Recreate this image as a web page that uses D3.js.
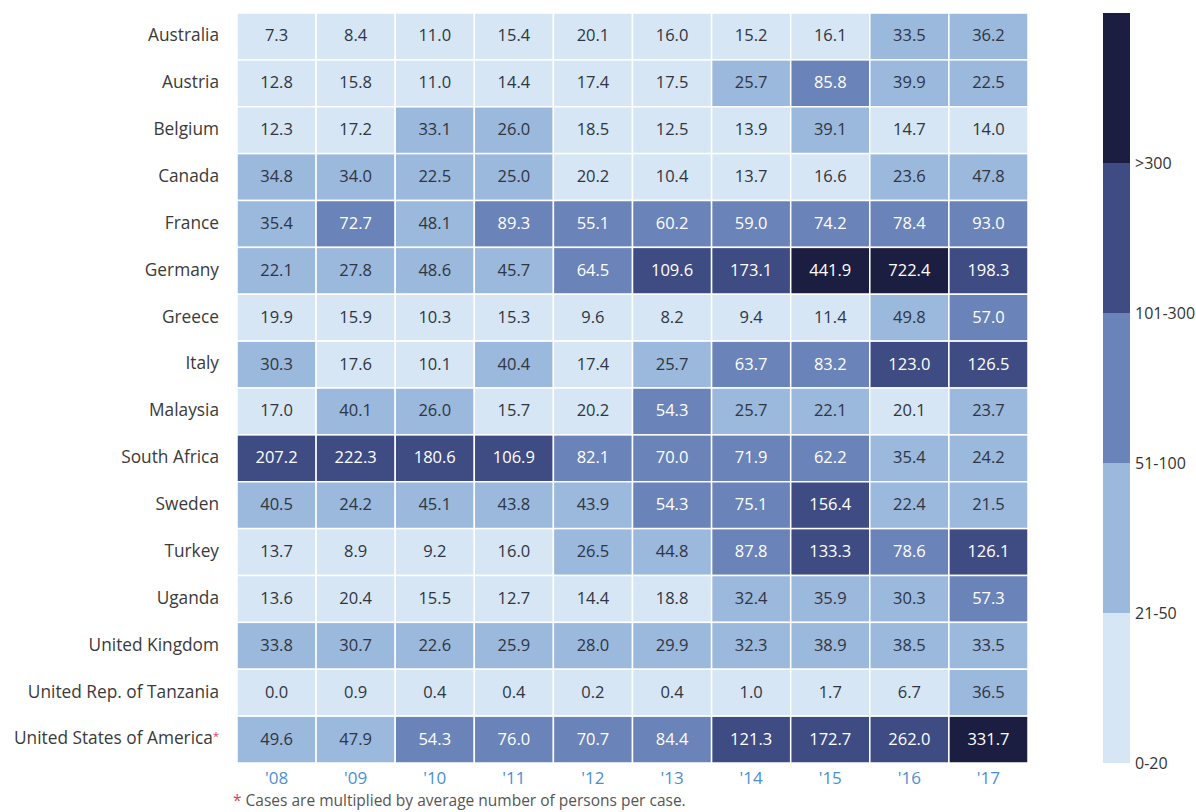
<!DOCTYPE html>
<html>
<head>
<meta charset="utf-8">
<script src="https://cdn.jsdelivr.net/npm/d3@7"></script>
<style>
  html, body { margin: 0; padding: 0; background: #ffffff; }
  svg { display: block; font-family: "Open Sans", sans-serif; }
</style>
</head>
<body>
<svg id="chart" width="1196" height="812"></svg>
<script>
// Countries (rows) and years (columns)
const countries = [
  "Australia", "Austria", "Belgium", "Canada", "France", "Germany", "Greece",
  "Italy", "Malaysia", "South Africa", "Sweden", "Turkey", "Uganda",
  "United Kingdom", "United Rep. of Tanzania", "United States of America"
];
const years = ["'08", "'09", "'10", "'11", "'12", "'13", "'14", "'15", "'16", "'17"];

// Values per country, one entry per year
const australia = [7.3, 8.4, 11.0, 15.4, 20.1, 16.0, 15.2, 16.1, 33.5, 36.2];
const austria   = [12.8, 15.8, 11.0, 14.4, 17.4, 17.5, 25.7, 85.8, 39.9, 22.5];
const belgium   = [12.3, 17.2, 33.1, 26.0, 18.5, 12.5, 13.9, 39.1, 14.7, 14.0];
const canada    = [34.8, 34.0, 22.5, 25.0, 20.2, 10.4, 13.7, 16.6, 23.6, 47.8];
const france    = [35.4, 72.7, 48.1, 89.3, 55.1, 60.2, 59.0, 74.2, 78.4, 93.0];
const germany   = [22.1, 27.8, 48.6, 45.7, 64.5, 109.6, 173.1, 441.9, 722.4, 198.3];
const greece    = [19.9, 15.9, 10.3, 15.3, 9.6, 8.2, 9.4, 11.4, 49.8, 57.0];
const italy     = [30.3, 17.6, 10.1, 40.4, 17.4, 25.7, 63.7, 83.2, 123.0, 126.5];
const malaysia  = [17.0, 40.1, 26.0, 15.7, 20.2, 54.3, 25.7, 22.1, 20.1, 23.7];
const southAfrica = [207.2, 222.3, 180.6, 106.9, 82.1, 70.0, 71.9, 62.2, 35.4, 24.2];
const sweden    = [40.5, 24.2, 45.1, 43.8, 43.9, 54.3, 75.1, 156.4, 22.4, 21.5];
const turkey    = [13.7, 8.9, 9.2, 16.0, 26.5, 44.8, 87.8, 133.3, 78.6, 126.1];
const uganda    = [13.6, 20.4, 15.5, 12.7, 14.4, 18.8, 32.4, 35.9, 30.3, 57.3];
const unitedKingdom = [33.8, 30.7, 22.6, 25.9, 28.0, 29.9, 32.3, 38.9, 38.5, 33.5];
const tanzania  = [0.0, 0.9, 0.4, 0.4, 0.2, 0.4, 1.0, 1.7, 6.7, 36.5];
const usa       = [49.6, 47.9, 54.3, 76.0, 70.7, 84.4, 121.3, 172.7, 262.0, 331.7];

const rows = [australia, austria, belgium, canada, france, germany, greece, italy,
  malaysia, southAfrica, sweden, turkey, uganda, unitedKingdom, tanzania, usa];

// Colour classes
const classLabels = ["0-20", "21-50", "51-100", "101-300", ">300"];
const classBreaks = [20.5, 50.5, 100.5, 300.5];
const classColors = ["#d6e6f4", "#9bb8dd", "#6a83b8", "#3e4c83", "#1b1e40"];

const footnote = "Cases are multiplied by average number of persons per case.";
const starredCountry = "United States of America";

const cells = [];
rows.forEach((vals, r) => vals.forEach((v, c) => cells.push({ country: countries[r], year: years[c], value: v })));

const svg = d3.select("#chart");
const margin = { left: 237, top: 13, right: 1028, bottom: 763 };

const x = d3.scaleBand().domain(years).range([margin.left, margin.right]).padding(0);
const y = d3.scaleBand().domain(countries).range([margin.top, margin.bottom]).padding(0);
const color = d3.scaleThreshold().domain(classBreaks).range(classColors);

// Cells
svg.append("g").selectAll("rect").data(cells).join("rect")
  .attr("x", d => x(d.year))
  .attr("y", d => y(d.country))
  .attr("width", x.bandwidth())
  .attr("height", y.bandwidth())
  .attr("fill", d => color(d.value))
  .attr("stroke", "#ffffff")
  .attr("stroke-width", 1.5);

// Cell values
svg.append("g").selectAll("text").data(cells).join("text")
  .attr("x", d => x(d.year) + x.bandwidth() / 2)
  .attr("y", d => y(d.country) + y.bandwidth() / 2)
  .attr("dy", "0.3em")
  .attr("text-anchor", "middle")
  .attr("font-size", 16.5)
  .attr("fill", d => d.value > classBreaks[1] ? "#ffffff" : "#2f3542")
  .text(d => d.value.toFixed(1));

// Country axis
const yAxis = svg.append("g")
  .attr("transform", `translate(${margin.left},0)`)
  .call(d3.axisLeft(y).tickSize(0).tickPadding(18));
yAxis.select(".domain").remove();
yAxis.selectAll("text")
  .attr("font-size", 17.3)
  .attr("dy", "0.28em")
  .attr("font-family", "'Open Sans', sans-serif")
  .attr("fill", "#3a3a3a")
  .each(function (d) {
    if (d === starredCountry) {
      const t = d3.select(this);
      t.text(d);
      t.append("tspan").attr("fill", "#e0405c").attr("font-size", 11).attr("dy", "-0.4em").text("*");
    }
  });

// Year axis
const xAxis = svg.append("g")
  .attr("transform", `translate(0,${margin.bottom})`)
  .call(d3.axisBottom(x).tickSize(0).tickPadding(9));
xAxis.select(".domain").remove();
xAxis.selectAll("text")
  .attr("font-size", 17)
  .attr("font-family", "'Open Sans', sans-serif")
  .attr("fill", "#4a8fd4");

// Footnote
const fn = svg.append("text")
  .attr("x", 233)
  .attr("y", 806)
  .attr("font-size", 15.5)
  .attr("fill", "#555555");
fn.append("tspan").attr("fill", "#e0405c").text("* ");
fn.append("tspan").text(footnote);

// Legend
const legendX = 1103, legendW = 27;
const ly = d3.scaleBand().domain(classLabels.slice().reverse()).range([margin.top, margin.bottom]);
const legend = svg.append("g");
legend.selectAll("rect").data(classLabels).join("rect")
  .attr("x", legendX)
  .attr("y", d => ly(d))
  .attr("width", legendW)
  .attr("height", ly.bandwidth())
  .attr("fill", (d, i) => classColors[i]);
legend.selectAll("text").data(classLabels).join("text")
  .attr("x", legendX + legendW + 5)
  .attr("y", d => ly(d) + ly.bandwidth())
  .attr("dy", "0.35em")
  .attr("font-size", 16)
  .attr("fill", "#333333")
  .text(d => d);
</script>
</body>
</html>
